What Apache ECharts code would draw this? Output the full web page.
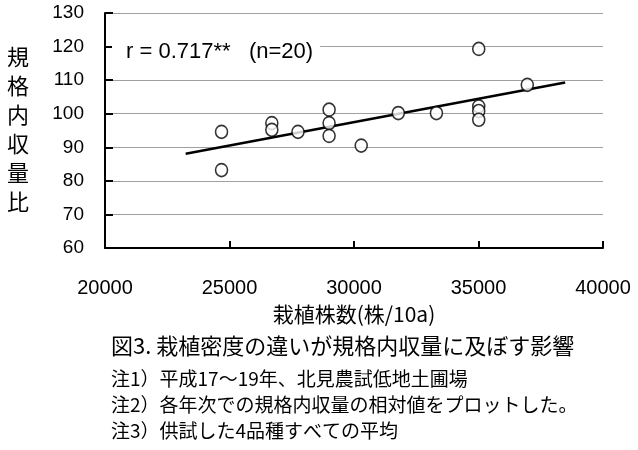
<!DOCTYPE html>
<html>
<head>
<meta charset="utf-8">
<script src="https://cdn.jsdelivr.net/npm/echarts@6/dist/echarts.min.js"></script>
<style>
html,body{margin:0;padding:0;background:#fff;}
#chart{width:638px;height:450px;}
</style>
</head>
<body>
<div id="chart"></div>
<script>
// ---- data ----
var plantDensity = [24680, 24680, 26700, 26700, 27750, 29000, 29000, 29000, 30290, 31780, 33310, 35010, 35010, 35010, 35010, 36960];
var yieldRatio   = [94.6, 83.2, 97.2, 95.2, 94.6, 101.2, 97.2, 93.4, 90.5, 100.2, 100.2, 119.3, 102.2, 100.8, 98.2, 108.6];
var trendX = [23240, 38480];
var trendY = [88.1, 109.3];
var xTicks = [20000, 25000, 30000, 35000, 40000];
var yTicks = [60, 70, 80, 90, 100, 110, 120, 130];
var xAxisName = '栽植株数(株/10a)';
var yAxisName = '規格内収量比';
var corrText = 'r = 0.717**   (n=20)';
var caption = '図3. 栽植密度の違いが規格内収量に及ぼす影響';
var notes = ['注1）平成17～19年、北見農試低地土圃場', '注2）各年次での規格内収量の相対値をプロットした。', '注3）供試した4品種すべての平均'];

var scatterData = plantDensity.map(function (x, i) { return [x, yieldRatio[i]]; });
var trendData = trendX.map(function (x, i) { return [x, trendY[i]]; });

var numFont = '"Liberation Sans", Arial, sans-serif';
var jpFont = '"Noto Sans CJK JP", sans-serif';

var chart = echarts.init(document.getElementById('chart'), null, {renderer: 'canvas'});
chart.setOption({
  backgroundColor: '#fff',
  animation: false,
  grid: {left: 105, right: 35, top: 13, bottom: 202},
  xAxis: {
    type: 'value',
    min: xTicks[0], max: xTicks[xTicks.length - 1], interval: 5000,
    name: xAxisName, nameLocation: 'middle', nameGap: 56,
    nameTextStyle: {fontFamily: jpFont, fontSize: 21, color: '#000'},
    axisLine: {show: true, lineStyle: {color: '#000', width: 2}},
    axisTick: {show: true, inside: true, length: 7, lineStyle: {color: '#000', width: 2}},
    axisLabel: {fontFamily: numFont, fontSize: 20, color: '#000', margin: 30,
                formatter: function (v) { return String(v); }},
    splitLine: {show: false}
  },
  yAxis: {
    type: 'value',
    min: yTicks[0], max: yTicks[yTicks.length - 1], interval: 10,
    axisLine: {show: true, lineStyle: {color: '#000', width: 2}},
    axisTick: {show: true, inside: true, length: 8, lineStyle: {color: '#000', width: 2}},
    axisLabel: {fontFamily: numFont, fontSize: 19, color: '#000', margin: 21},
    splitLine: {show: true, lineStyle: {color: '#a0a0a0', width: 1}}
  },
  graphic: [
    {type: 'text', left: 7, top: 42, z: 10,
     style: {text: yAxisName.split('').join('\n'), font: '22px ' + jpFont, fill: '#000', lineHeight: 29}},
    {type: 'text', left: 112, top: 40, z: 10,
     style: {text: corrText, font: '22px ' + numFont, fill: '#000', backgroundColor: '#fff', padding: [1, 7, 1, 14]}},
    {type: 'text', left: 111, top: 335, z: 10,
     style: {text: caption, font: '22px ' + jpFont, fill: '#000'}},
    {type: 'text', left: 111, top: 369, z: 10,
     style: {text: notes[0], font: '19px ' + jpFont, fill: '#000'}},
    {type: 'text', left: 111, top: 395, z: 10,
     style: {text: notes[1], font: '19px ' + jpFont, fill: '#000'}},
    {type: 'text', left: 111, top: 421, z: 10,
     style: {text: notes[2], font: '19px ' + jpFont, fill: '#000'}}
  ],
  series: [
    {type: 'line', data: trendData, symbol: 'none', silent: true, z: 2,
     lineStyle: {color: '#000', width: 2.5}},
    {type: 'scatter', data: scatterData, symbol: 'circle', symbolSize: [12, 13], z: 3,
     itemStyle: {color: '#fff', borderColor: '#000', borderWidth: 1.6}}
  ]
});
</script>
</body>
</html>
